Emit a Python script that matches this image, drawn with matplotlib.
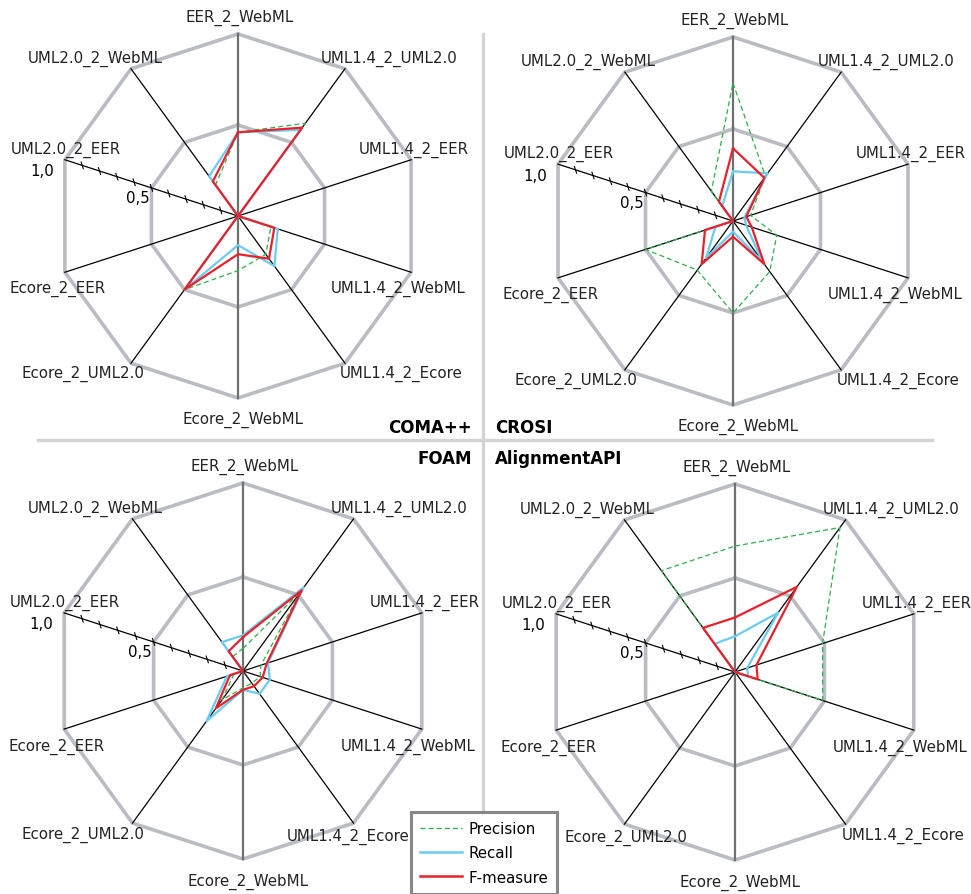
import numpy as np
import matplotlib.pyplot as plt
from matplotlib.lines import Line2D

# spokes, clockwise from the top
spokes = ["EER_2_WebML", "UML1.4_2_UML2.0", "UML1.4_2_EER", "UML1.4_2_WebML",
          "UML1.4_2_Ecore", "Ecore_2_WebML", "Ecore_2_UML2.0", "Ecore_2_EER",
          "UML2.0_2_EER", "UML2.0_2_WebML"]

# values (0..1)
coma_precision = [0.46, 0.63, 0.0, 0.19, 0.26, 0.30, 0.50, 0.0, 0.0, 0.21]
coma_recall    = [0.46, 0.585, 0.0, 0.23, 0.34, 0.16, 0.50, 0.0, 0.0, 0.27]
coma_fmeasure  = [0.46, 0.60, 0.0, 0.21, 0.29, 0.21, 0.50, 0.0, 0.0, 0.235]

crosi_precision = [0.75, 0.30, 0.10, 0.25, 0.34, 0.50, 0.33, 0.50, 0.0, 0.20]
crosi_recall    = [0.27, 0.32, 0.065, 0.075, 0.27, 0.058, 0.25, 0.10, 0.0, 0.10]
crosi_fmeasure  = [0.395, 0.29, 0.076, 0.107, 0.29, 0.085, 0.29, 0.16, 0.0, 0.13]

foam_precision = [0.12, 0.52, 0.10, 0.096, 0.08, 0.09, 0.19, 0.05, 0.0, 0.094]
foam_recall    = [0.19, 0.55, 0.14, 0.15, 0.15, 0.10, 0.33, 0.09, 0.0, 0.19]
foam_fmeasure  = [0.18, 0.53, 0.133, 0.11, 0.10, 0.10, 0.245, 0.073, 0.0, 0.13]

align_precision = [0.67, 0.95, 0.49, 0.49, 0.0, 0.0, 0.0, 0.0, 0.0, 0.666]
align_recall    = [0.19, 0.39, 0.068, 0.074, 0.0, 0.0, 0.0, 0.0, 0.0, 0.185]
align_fmeasure  = [0.29, 0.56, 0.12, 0.127, 0.0, 0.0, 0.0, 0.0, 0.0, 0.29]

# label offsets from each outer vertex, in pixels
lab_off = [(2, -17), (44, -11), (3, -11), (-13, 16), (56, 10),
           (5, 21), (-48, 10), (-7, 16), (1, -11), (-36, -11)]

green = "#2db04b"
blue = "#6ccbf0"
red = "#e8212b"
ring_col = "#b9bcc2"

fig = plt.figure(figsize=(9.71, 8.95), dpi=100)
ax = fig.add_axes([0, 0, 1, 1])
ax.set_xlim(0, 971)
ax.set_ylim(895, 0)
ax.axis("off")

theta = np.deg2rad(90 - 36 * np.arange(10))


def radar(cx, cy, R, prec, rec, fm, overrides={}):
    ct, st = np.cos(theta), np.sin(theta)
    # rings at 0.5 and 1.0
    for r in [0.5, 1.0]:
        xs = np.append(cx + r * R * ct, cx + r * R * ct[0])
        ys = np.append(cy - r * R * st, cy - r * R * st[0])
        ax.plot(xs, ys, color=ring_col, lw=2.6, zorder=1, solid_joinstyle="miter")
    # spokes
    for k in range(10):
        if k in (0, 5):
            c, w = "#707070", 1.6
        else:
            c, w = "black", 0.9
        ax.plot([cx, cx + R * ct[k]], [cy, cy - R * st[k]], color=c, lw=w, zorder=2)
    # scale ticks on UML2.0_2_EER spoke
    k = 8
    px, py = -st[k], -ct[k]
    for t in np.arange(1, 10) / 10:
        tx, ty = cx + t * R * ct[k], cy - t * R * st[k]
        ax.plot([tx - 3.5 * px, tx + 3.5 * px], [ty + 3.5 * py, ty - 3.5 * py],
                color="black", lw=0.8, zorder=2)
    ax.text(cx + R * ct[k] - 23, cy - R * st[k] + 11, "1,0", fontsize=10.8,
            ha="center", va="center")
    ax.text(cx + 0.5 * R * ct[k] - 14, cy - 0.5 * R * st[k] + 10, "0,5", fontsize=10.8,
            ha="center", va="center")
    # series
    for vals, col, ls, lw, z in [(prec, green, (0, (4, 2.5)), 0.9, 3),
                                 (rec, blue, "-", 1.6, 4),
                                 (fm, red, "-", 1.6, 5)]:
        v = np.array(vals + vals[:1])
        xs = cx + v * R * np.append(ct, ct[0])
        ys = cy - v * R * np.append(st, st[0])
        ax.plot(xs, ys, color=col, ls=ls, lw=lw, zorder=z)
    # spoke labels
    sc = R / 182.0
    for k, name in enumerate(spokes):
        dx, dy = overrides.get(k, lab_off[k])
        ax.text(cx + R * ct[k] + dx * sc, cy - R * st[k] + dy * sc, name,
                fontsize=10.8, ha="center", va="center", color="#222222")


radar(238, 217, 182, coma_precision, coma_recall, coma_fmeasure)
radar(733, 222, 184, crosi_precision, crosi_recall, crosi_fmeasure)
radar(243, 672, 188, foam_precision, foam_recall, foam_fmeasure, {4: (-5, 12)})
radar(735, 673, 188, align_precision, align_recall, align_fmeasure, {6: (1, 12)})

# dividers
ax.plot([483, 483], [35, 815], color="#d3d3d3", lw=2.4, zorder=0)
ax.plot([38, 932], [441, 441], color="#d3d3d3", lw=2.4, zorder=0)

# method names
ax.text(472, 428, "COMA++", fontsize=12, fontweight="bold", ha="right", va="center")
ax.text(495, 428, "CROSI", fontsize=12, fontweight="bold", ha="left", va="center")
ax.text(472, 459, "FOAM", fontsize=12, fontweight="bold", ha="right", va="center")
ax.text(495, 459, "AlignmentAPI", fontsize=12, fontweight="bold", ha="left", va="center")

handles = [Line2D([], [], color=green, ls=(0, (4, 2.5)), lw=0.9),
           Line2D([], [], color=blue, lw=1.8),
           Line2D([], [], color=red, lw=1.8)]
leg = ax.legend(handles, ["Precision", "Recall", "F-measure"],
                loc="upper left", bbox_to_anchor=(411 / 971, 1 - 813 / 895),
                fontsize=10.8, frameon=True, fancybox=False, borderpad=0.6,
                handlelength=2.8, handletextpad=0.4, labelspacing=0.62,
                borderaxespad=0)
leg.get_frame().set_edgecolor("#6b6b6b")
leg.get_frame().set_linewidth(2.2)
leg.set_zorder(10)

fig.savefig("out.png", dpi=100)
